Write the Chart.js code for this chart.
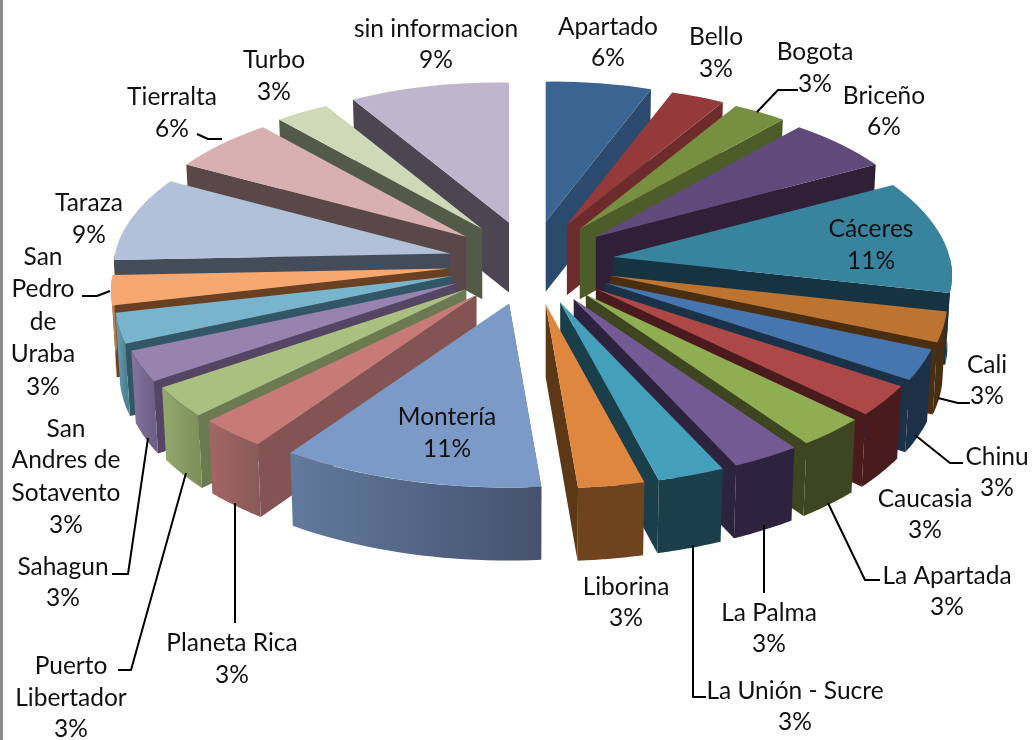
<!DOCTYPE html>
<html>
<head>
<meta charset="utf-8">
<style>
html,body{margin:0;padding:0;background:#fff;}
#wrap{position:relative;width:1032px;height:740px;overflow:hidden;}
#edge{position:absolute;left:0;top:0;width:3px;height:740px;background:#8a8a8a;}
canvas{display:block;}
</style>
<script src="https://cdn.jsdelivr.net/npm/chart.js@4"></script>
</head>
<body>
<div id="wrap"><canvas id="c" width="1032" height="740"></canvas><div id="edge"></div></div>
<script>
const categories = ["Apartado","Bello","Bogota","Briceño","Cáceres","Cali","Chinu","Caucasia","La Apartada","La Palma","La Unión - Sucre","Liborina","Montería","Planeta Rica","Puerto Libertador","Sahagun","San Andres de Sotavento","San Pedro de Uraba","Taraza","Tierralta","Turbo","sin informacion"];
const percents = [5.7,2.9,2.9,5.7,11.4,2.9,2.9,2.9,2.9,2.9,2.9,2.9,11.4,2.9,2.9,2.9,2.9,2.9,8.6,5.7,2.9,8.6];

const topColors = ["#3A6491","#953A3A","#778F40","#604A7B","#38849E","#BD7430","#4676B0","#AE4846","#8FAE52","#735A95","#449FBA","#E0873F","#7C9AC8","#C77A78","#A9C080","#9882AE","#78B5CC","#F6A870","#B1C1DA","#D8B0B0","#CFD9B8","#BFB5CC"];
const faceColors = ["#2B4A6D","#6D2B2B","#4C5D2A","#2F2038","#153340","#4A2E12","#1A3148","#4A1B1C","#3D4620","#2E233F","#1A3F4B","#5C3817","#44526D","#845454","#6B7A50","#534563","#315766","#694022","#444C59","#5A4848","#545A48","#4B4652"];
const wallLeft = ["#2B4A6D","#6D2B2B","#4C5D2A","#2F2038","#153340","#4A2E12","#1A3148","#4A1B1C","#3D4620","#2E233F","#1A3F4B","#6E431E","#627A9E","#A46666","#94A96E","#85759C","#68A2B8","#E0945C","#444C59","#5A4848","#545A48","#4B4652"];
const wallRight = ["#2B4A6D","#6D2B2B","#4C5D2A","#2F2038","#153340","#4A2E12","#1A3148","#4A1B1C","#3D4620","#2E233F","#1A3F4B","#6E431E","#44526D","#8A5A5A","#7C9058","#6E5F86","#4F8496","#C07C48","#444C59","#5A4848","#545A48","#4B4652"];

// label text layout: lines of the name, centre x, and y of each line (last is the % line)
const labelLayout = [
 {l:["Apartado"],x:608,y:[27,58]},
 {l:["Bello"],x:716,y:[37,69]},
 {l:["Bogota"],x:815,y:[52,84]},
 {l:["Briceño"],x:884,y:[96,127]},
 {l:["Cáceres"],x:871,y:[229,261]},
 {l:["Cali"],x:987,y:[365,396]},
 {l:["Chinu"],x:997,y:[457,488]},
 {l:["Caucasia"],x:925,y:[499,530]},
 {l:["La Apartada"],x:947,y:[576,607]},
 {l:["La Palma"],x:769,y:[613,644]},
 {l:["La Unión - Sucre"],x:795,y:[691,722]},
 {l:["Liborina"],x:626,y:[587,618]},
 {l:["Montería"],x:447,y:[417,449]},
 {l:["Planeta Rica"],x:232,y:[643,675]},
 {l:["Puerto","Libertador"],x:71,y:[666,698,729]},
 {l:["Sahagun"],x:63,y:[567,598]},
 {l:["San","Andres de","Sotavento"],x:66,y:[429,460,493,525]},
 {l:["San","Pedro","de","Uraba"],x:43,y:[257,289,322,354,387]},
 {l:["Taraza"],x:89,y:[203,235]},
 {l:["Tierralta"],x:172,y:[97,129]},
 {l:["Turbo"],x:274,y:[60,92]},
 {l:["sin informacion"],x:436,y:[29,60]}
];
const leaderLines = [
 [[798,90],[778,90],[757,112]],
 [[970,403],[958,403],[938,398]],
 [[963,463],[950,463],[915,435]],
 [[880,580],[865,580],[828,503]],
 [[764,593],[764,525]],
 [[706,697],[693,697],[693,545]],
 [[235,623],[235,503]],
 [[118,670],[131,670],[186,473]],
 [[112,574],[128,574],[148,438]],
 [[82,296],[97,296],[110,291]],
 [[197,134],[208,139],[222,139]]
];

const view = {cx:531, cy:263, tipX:83, tipY:42, rx0:335, rx1:35, rx2:12, ry0:162, ry1:22, ry2:5, k:0.989, d0:71.5, d1:1.5};

function tipOf(th){ return {x:view.cx+view.tipX*Math.sin(th), y:view.cy-view.tipY*Math.cos(th)}; }
function rimVec(th){
  const c=Math.cos(th), s=Math.sin(th), s2=Math.sin(2*th), bulge=c<0?s2*s2:0;
  return {x:(view.rx0-view.rx1*c+view.rx2*bulge)*s, y:-(view.ry0-view.ry1*c+view.ry2*bulge)*c};
}
function sink(p,th){ return {x:view.cx+(p.x-view.cx)*view.k, y:p.y+view.d0-view.d1*Math.cos(th)}; }

// per-slice affine mapping from the element's flat circle to the tilted view
function sliceMap(arc){
  const R=arc.outerRadius, as=arc.startAngle, ae=arc.endAngle;
  const ths=as+Math.PI/2, the=ae+Math.PI/2, mid=(ths+the)/2;
  const tip=tipOf(mid);
  const us={x:R*Math.cos(as),y:R*Math.sin(as)}, ue={x:R*Math.cos(ae),y:R*Math.sin(ae)};
  const ds=rimVec(ths), de=rimVec(the);
  const det=us.x*ue.y-ue.x*us.y;
  const ia=ue.y/det, ib=-ue.x/det, ic=-us.y/det, id=us.x/det;
  const a=ds.x*ia+de.x*ic, c=ds.x*ib+de.x*id, b=ds.y*ia+de.y*ic, d=ds.y*ib+de.y*id;
  const e=tip.x-(a*arc.x+c*arc.y), f=tip.y-(b*arc.x+d*arc.y);
  const at=(ang)=>{const px=arc.x+R*Math.cos(ang),py=arc.y+R*Math.sin(ang);return {x:a*px+c*py+e,y:b*px+d*py+f};};
  return {a,b,c,d,e,f,tip,ths,the,mid,at,as,ae};
}

const tiltPlugin = {
  id:'tilt',
  beforeDatasetDraw(chart){
    const ctx=chart.ctx, arcs=chart.getDatasetMeta(0).data;
    const items=arcs.map((arc,i)=>({arc,i,m:sliceMap(arc)}));
    // walls, back to front
    items.sort((p,q)=>(-Math.cos(p.m.mid))-(-Math.cos(q.m.mid)));
    items.forEach(({i,m})=>{
      const right=m.mid<Math.PI;
      const edgeAng=right?m.ae:m.as, edgeTh=right?m.the:m.ths;
      const corner=m.at(edgeAng);
      const c0=sink(corner,edgeTh);
      ctx.fillStyle=faceColors[i];
      ctx.beginPath();
      ctx.moveTo(m.tip.x,m.tip.y);ctx.lineTo(corner.x,corner.y);ctx.lineTo(c0.x,c0.y);ctx.lineTo(m.tip.x,m.tip.y+view.d0-view.d1*Math.cos(m.mid));
      ctx.closePath();ctx.fill();
      const lo=Math.max(m.ths,Math.PI/2), hi=Math.min(m.the,Math.PI*1.5);
      if(hi>lo){
        const top=[],bot=[];
        for(let s=0;s<=24;s++){
          const th=lo+(hi-lo)*s/24, p=m.at(th-Math.PI/2);
          top.push(p);bot.push(sink(p,th));
        }
        const xs=top.map(p=>p.x), g=ctx.createLinearGradient(Math.min(...xs),0,Math.max(...xs),0);
        g.addColorStop(0,wallLeft[i]);g.addColorStop(1,wallRight[i]);
        ctx.fillStyle=g;
        ctx.beginPath();
        top.forEach((p,n)=>n?ctx.lineTo(p.x,p.y):ctx.moveTo(p.x,p.y));
        bot.reverse().forEach(p=>ctx.lineTo(p.x,p.y));
        ctx.closePath();ctx.fill();
      }
    });
    // top faces, drawn by the library's own arc elements
    items.forEach(({arc,m})=>{
      ctx.save();
      ctx.transform(m.a,m.b,m.c,m.d,m.e,m.f);
      arc.draw(ctx);
      ctx.restore();
    });
    return false;
  },
  afterDraw(chart){
    const ctx=chart.ctx;
    ctx.save();
    ctx.strokeStyle='#000';ctx.lineWidth=2;ctx.lineJoin='round';
    leaderLines.forEach(line=>{
      ctx.beginPath();
      line.forEach((p,n)=>n?ctx.lineTo(p[0],p[1]):ctx.moveTo(p[0],p[1]));
      ctx.stroke();
    });
    ctx.fillStyle='#111';ctx.textAlign='center';ctx.textBaseline='middle';
    ctx.font='24.5px Lato';
    labelLayout.forEach((t,i)=>{
      const lines=t.l.concat([Math.round(percents[i])+'%']);
      lines.forEach((s,n)=>ctx.fillText(s,t.x,t.y[n]));
    });
    ctx.restore();
  }
};

new Chart(document.getElementById('c'),{
  type:'pie',
  data:{labels:categories,datasets:[{data:percents,backgroundColor:topColors,borderWidth:0,radius:337,clip:false}]},
  options:{responsive:false,animation:false,events:[],layout:{padding:0},
    plugins:{legend:{display:false},tooltip:{enabled:false}}},
  plugins:[tiltPlugin]
});
</script>
</body>
</html>
